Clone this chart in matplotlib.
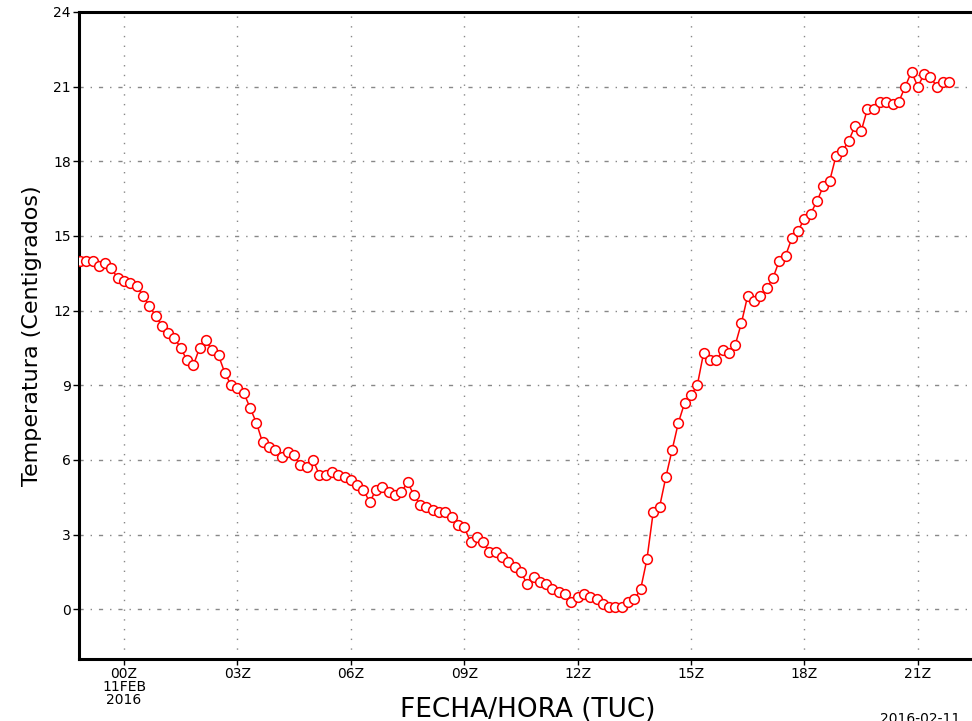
import numpy as np
import matplotlib
matplotlib.use("Agg")
import matplotlib.pyplot as plt

# 10-minute observations, first one at 22:50Z on 10 Feb (hours relative to 00Z 11FEB)
start_hour = -70 / 60
step_hour = 10 / 60

temps = [
    14.0, 14.0, 14.0, 13.8, 13.9, 13.7, 13.3, 13.2, 13.1, 13.0,
    12.6, 12.2, 11.8, 11.4, 11.1, 10.9, 10.5, 10.0, 9.8, 10.5,
    10.8, 10.4, 10.2, 9.5, 9.0, 8.9, 8.7, 8.1, 7.5, 6.7,
    6.5, 6.4, 6.1, 6.3, 6.2, 5.8, 5.7, 6.0, 5.4, 5.4,
    5.5, 5.4, 5.3, 5.2, 5.0, 4.8, 4.3, 4.8, 4.9, 4.7,
    4.6, 4.7, 5.1, 4.6, 4.2, 4.1, 4.0, 3.9, 3.9, 3.7,
    3.4, 3.3, 2.7, 2.9, 2.7, 2.3, 2.3, 2.1, 1.9, 1.7,
    1.5, 1.0, 1.3, 1.1, 1.0, 0.8, 0.7, 0.6, 0.3, 0.5,
    0.6, 0.5, 0.4, 0.2, 0.1, 0.1, 0.1, 0.3, 0.4, 0.8,
    2.0, 3.9, 4.1, 5.3, 6.4, 7.5, 8.3, 8.6, 9.0, 10.3,
    10.0, 10.0, 10.4, 10.3, 10.6, 11.5, 12.6, 12.4, 12.6, 12.9,
    13.3, 14.0, 14.2, 14.9, 15.2, 15.7, 15.9, 16.4, 17.0, 17.2,
    18.2, 18.4, 18.8, 19.4, 19.2, 20.1, 20.1, 20.4, 20.4, 20.3,
    20.4, 21.0, 21.6, 21.0, 21.5, 21.4, 21.0, 21.2, 21.2,
]
hours = start_hour + step_hour * np.arange(len(temps))

xtick_hours = [0, 3, 6, 9, 12, 15, 18, 21]
xtick_labels = ["00Z\n11FEB\n2016", "03Z", "06Z", "09Z", "12Z", "15Z", "18Z", "21Z"]
ytick_vals = [0, 3, 6, 9, 12, 15, 18, 21, 24]

fig = plt.figure(figsize=(9.72, 7.21), dpi=100)
# axes runs past the right edge of the picture, as in the original crop
ax_w = 1.14
ax = fig.add_axes([0.0813, 0.086, ax_w, 0.8974])

ax.plot(hours, temps, color="red", lw=1.1, marker="o", ms=7,
        mfc="white", mec="red", mew=1.1, zorder=3)

x0 = -1.19
ax.set_xlim(x0, x0 + ax_w * 972 / 37.8)
ax.set_ylim(-2, 24)
ax.set_xticks(xtick_hours)
ax.set_xticklabels(xtick_labels, fontsize=10, linespacing=0.9)
ax.set_yticks(ytick_vals)
ax.set_yticklabels([str(v) for v in ytick_vals], fontsize=10)
ax.tick_params(direction="out", length=4, width=1, pad=2)

for x in xtick_hours:
    ax.axvline(x, color="#888888", lw=1.0, ls=(0, (1, 6)), zorder=1)
for y in ytick_vals[:-1]:
    ax.axhline(y, color="#888888", lw=1.0, ls=(0, (3, 5, 1, 5)), zorder=1)

for s in ax.spines.values():
    s.set_linewidth(2.2)
ax.spines["right"].set_visible(False)

ax.set_ylabel("Temperatura (Centigrados)", fontsize=16, labelpad=8)
ax.set_xlabel("FECHA/HORA (TUC)", fontsize=19)
ax.xaxis.set_label_coords((528 - 79) / (ax_w * 972), -0.058)

fig.text(0.905, 0.012, "2016-02-11", fontsize=10, va="top", ha="left")

fig.savefig("out.png", dpi=100)
